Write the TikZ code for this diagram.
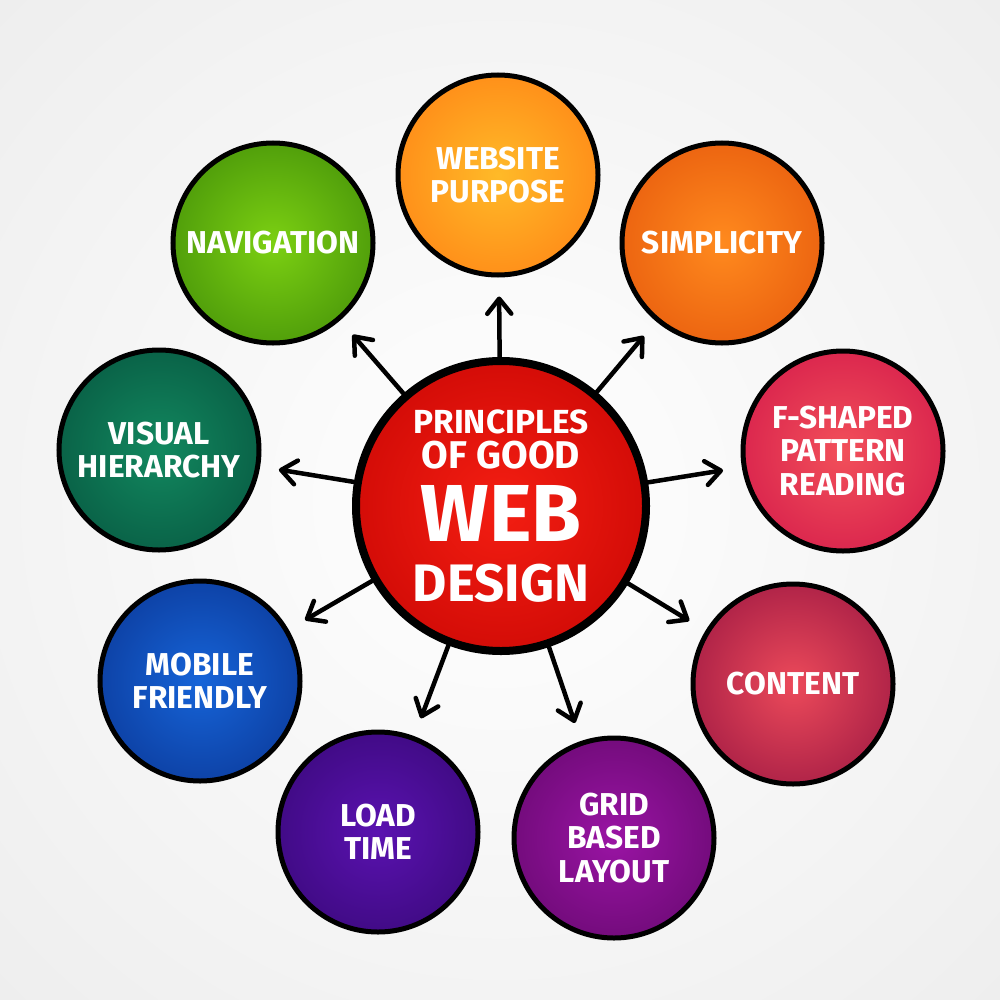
\documentclass[tikz,border=0pt]{standalone}
\usepackage{fontspec}
\setmainfont{Fira Sans}
\usepackage{tikz}
\usetikzlibrary{arrows.meta}

% radial shading that runs all the way to the rim
\makeatletter
\pgfdeclareradialshading[tikz@radial@inner,tikz@radial@outer]{glow}{\pgfpoint{0bp}{0bp}}%
	{color(0bp)=(tikz@radial@inner);color(42bp)=(tikz@radial@outer);color(50bp)=(tikz@radial@outer)}
\makeatother

\definecolor{purposeIn}{HTML}{FFBA28}\definecolor{purposeOut}{HTML}{FF7410}
\definecolor{simpleIn}{HTML}{FF8A1E}\definecolor{simpleOut}{HTML}{E04C08}
\definecolor{fshapeIn}{HTML}{F2505A}\definecolor{fshapeOut}{HTML}{CC0C46}
\definecolor{contentIn}{HTML}{EC4A5A}\definecolor{contentOut}{HTML}{880A3C}
\definecolor{gridIn}{HTML}{9A14A4}\definecolor{gridOut}{HTML}{5A0662}
\definecolor{loadIn}{HTML}{5A12B0}\definecolor{loadOut}{HTML}{30066A}
\definecolor{mobileIn}{HTML}{1664D8}\definecolor{mobileOut}{HTML}{082C86}
\definecolor{visualIn}{HTML}{12885F}\definecolor{visualOut}{HTML}{044A38}
\definecolor{navIn}{HTML}{7CD012}\definecolor{navOut}{HTML}{347E06}
\definecolor{hubIn}{HTML}{F41E12}\definecolor{hubOut}{HTML}{BE0000}

\begin{document}
\begin{tikzpicture}[x=0.2mm, y=-0.2mm,
	bubble/.style 2 args={circle, draw=black, line width=1mm, minimum size=40mm, inner sep=0pt,
		inner color=#1, outer color=#2, shading=glow, text=white, align=center,
		font=\bfseries\fontsize{18}{19}\selectfont},
	hubnode/.style={circle, draw=black, line width=1.6mm, minimum size=58mm, inner sep=0pt,
		inner color=hubIn, outer color=hubOut, shading=glow, text=white, align=center,
		font=\bfseries\fontsize{20}{0}\selectfont},
	spoke/.style={line width=0.9mm, line cap=round, shorten >=3.8mm,
		-{Straight Barb[length=3mm, width=4.8mm, line cap=round, line join=round]}}]
	
	% background
	\useasboundingbox (0,0) rectangle (1000,1000);
	\begin{scope}
		\clip (0,0) rectangle (1000,1000);
		\fill[inner color=white, outer color=black!12, shading=glow] (500,500) circle (760);
	\end{scope}
	
	\node[hubnode] (hub) at (501,506) {%
		{\fontsize{19}{0}\selectfont PRINCIPLES}\\[3pt]
		{\fontsize{22}{0}\selectfont OF GOOD}\\[8pt]
		{\fontsize{46}{0}\selectfont WEB}\\[12pt]
		{\fontsize{30}{0}\selectfont DESIGN}};
	
	\node[bubble={purposeIn}{purposeOut}] (purpose) at (498,175) {WEBSITE\\PURPOSE};
	\node[bubble={simpleIn}{simpleOut}] (simple) at (722,243) {SIMPLICITY};
	\node[bubble={fshapeIn}{fshapeOut}] (fshape) at (843,451) {F-SHAPED\\PATTERN\\READING};
	\node[bubble={contentIn}{contentOut}] (content) at (793,684) {CONTENT};
	\node[bubble={gridIn}{gridOut}] (grid) at (614,838) {GRID\\BASED\\LAYOUT};
	\node[bubble={loadIn}{loadOut}] (load) at (378,832) {LOAD\\TIME};
	\node[bubble={mobileIn}{mobileOut}] (mobile) at (200,681) {MOBILE\\FRIENDLY};
	\node[bubble={visualIn}{visualOut}] (visual) at (159,450) {VISUAL\\HIERARCHY};
	\node[bubble={navIn}{navOut}] (nav) at (273,243) {NAVIGATION};
	
	\path[spoke]
	(hub) edge (purpose)
	edge (simple)
	edge (fshape)
	edge (content)
	edge (grid)
	edge (load)
	edge (mobile)
	edge (visual)
	edge (nav)
	;
\end{tikzpicture}
\end{document}
